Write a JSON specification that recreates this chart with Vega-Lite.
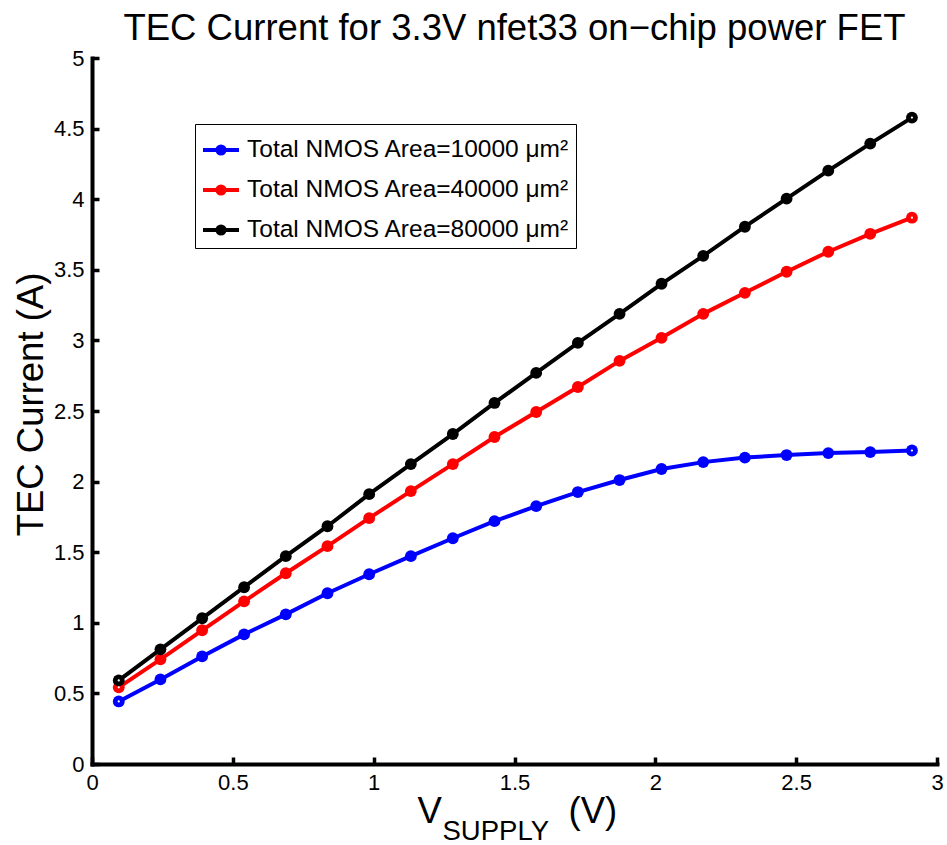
{
  "$schema": "https://vega.github.io/schema/vega-lite/v6.json",
  "width": 845,
  "height": 706,
  "autosize": {"type": "none"},
  "padding": {"left": 92, "top": 58, "right": 10, "bottom": 81},
  "background": "white",
  "config": {
    "font": "Liberation Sans",
    "view": {"stroke": null},
    "axis": {
      "grid": false,
      "domainColor": "black",
      "domainWidth": 4,
      "domainCap": "square",
      "tickColor": "black",
      "tickWidth": 3.5,
      "tickSize": -7,
      "labelPadding": 15,
      "labelFont": "Liberation Sans",
      "labelFontSize": 22,
      "labelColor": "black",
      "labelFlush": false,
      "labelOverlap": false,
      "titleFont": "Liberation Sans",
      "titleFontWeight": "normal",
      "titleColor": "black"
    }
  },
  "title": {
    "text": "TEC Current for 3.3V nfet33 on−chip power FET",
    "font": "Liberation Sans",
    "fontSize": 36.5,
    "fontWeight": "normal",
    "color": "black",
    "frame": "group",
    "anchor": "middle",
    "offset": 0
  },
  "data": {
    "values": [
      {"vsupply": 0.095, "current": 0.443, "area": "Total NMOS Area=10000 μm²"},
      {"vsupply": 0.243, "current": 0.599, "area": "Total NMOS Area=10000 μm²"},
      {"vsupply": 0.391, "current": 0.762, "area": "Total NMOS Area=10000 μm²"},
      {"vsupply": 0.540, "current": 0.918, "area": "Total NMOS Area=10000 μm²"},
      {"vsupply": 0.688, "current": 1.060, "area": "Total NMOS Area=10000 μm²"},
      {"vsupply": 0.836, "current": 1.209, "area": "Total NMOS Area=10000 μm²"},
      {"vsupply": 0.984, "current": 1.344, "area": "Total NMOS Area=10000 μm²"},
      {"vsupply": 1.132, "current": 1.472, "area": "Total NMOS Area=10000 μm²"},
      {"vsupply": 1.281, "current": 1.599, "area": "Total NMOS Area=10000 μm²"},
      {"vsupply": 1.429, "current": 1.720, "area": "Total NMOS Area=10000 μm²"},
      {"vsupply": 1.577, "current": 1.826, "area": "Total NMOS Area=10000 μm²"},
      {"vsupply": 1.725, "current": 1.926, "area": "Total NMOS Area=10000 μm²"},
      {"vsupply": 1.873, "current": 2.011, "area": "Total NMOS Area=10000 μm²"},
      {"vsupply": 2.022, "current": 2.089, "area": "Total NMOS Area=10000 μm²"},
      {"vsupply": 2.170, "current": 2.138, "area": "Total NMOS Area=10000 μm²"},
      {"vsupply": 2.318, "current": 2.170, "area": "Total NMOS Area=10000 μm²"},
      {"vsupply": 2.466, "current": 2.188, "area": "Total NMOS Area=10000 μm²"},
      {"vsupply": 2.614, "current": 2.202, "area": "Total NMOS Area=10000 μm²"},
      {"vsupply": 2.763, "current": 2.209, "area": "Total NMOS Area=10000 μm²"},
      {"vsupply": 2.911, "current": 2.220, "area": "Total NMOS Area=10000 μm²"},
      {"vsupply": 0.095, "current": 0.543, "area": "Total NMOS Area=40000 μm²"},
      {"vsupply": 0.243, "current": 0.741, "area": "Total NMOS Area=40000 μm²"},
      {"vsupply": 0.391, "current": 0.947, "area": "Total NMOS Area=40000 μm²"},
      {"vsupply": 0.540, "current": 1.152, "area": "Total NMOS Area=40000 μm²"},
      {"vsupply": 0.688, "current": 1.351, "area": "Total NMOS Area=40000 μm²"},
      {"vsupply": 0.836, "current": 1.543, "area": "Total NMOS Area=40000 μm²"},
      {"vsupply": 0.984, "current": 1.741, "area": "Total NMOS Area=40000 μm²"},
      {"vsupply": 1.132, "current": 1.933, "area": "Total NMOS Area=40000 μm²"},
      {"vsupply": 1.281, "current": 2.124, "area": "Total NMOS Area=40000 μm²"},
      {"vsupply": 1.429, "current": 2.316, "area": "Total NMOS Area=40000 μm²"},
      {"vsupply": 1.577, "current": 2.493, "area": "Total NMOS Area=40000 μm²"},
      {"vsupply": 1.725, "current": 2.670, "area": "Total NMOS Area=40000 μm²"},
      {"vsupply": 1.873, "current": 2.855, "area": "Total NMOS Area=40000 μm²"},
      {"vsupply": 2.022, "current": 3.018, "area": "Total NMOS Area=40000 μm²"},
      {"vsupply": 2.170, "current": 3.188, "area": "Total NMOS Area=40000 μm²"},
      {"vsupply": 2.318, "current": 3.337, "area": "Total NMOS Area=40000 μm²"},
      {"vsupply": 2.466, "current": 3.486, "area": "Total NMOS Area=40000 μm²"},
      {"vsupply": 2.614, "current": 3.628, "area": "Total NMOS Area=40000 μm²"},
      {"vsupply": 2.763, "current": 3.755, "area": "Total NMOS Area=40000 μm²"},
      {"vsupply": 2.911, "current": 3.869, "area": "Total NMOS Area=40000 μm²"},
      {"vsupply": 0.095, "current": 0.592, "area": "Total NMOS Area=80000 μm²"},
      {"vsupply": 0.243, "current": 0.812, "area": "Total NMOS Area=80000 μm²"},
      {"vsupply": 0.391, "current": 1.032, "area": "Total NMOS Area=80000 μm²"},
      {"vsupply": 0.540, "current": 1.252, "area": "Total NMOS Area=80000 μm²"},
      {"vsupply": 0.688, "current": 1.472, "area": "Total NMOS Area=80000 μm²"},
      {"vsupply": 0.836, "current": 1.684, "area": "Total NMOS Area=80000 μm²"},
      {"vsupply": 0.984, "current": 1.911, "area": "Total NMOS Area=80000 μm²"},
      {"vsupply": 1.132, "current": 2.124, "area": "Total NMOS Area=80000 μm²"},
      {"vsupply": 1.281, "current": 2.337, "area": "Total NMOS Area=80000 μm²"},
      {"vsupply": 1.429, "current": 2.557, "area": "Total NMOS Area=80000 μm²"},
      {"vsupply": 1.577, "current": 2.770, "area": "Total NMOS Area=80000 μm²"},
      {"vsupply": 1.725, "current": 2.982, "area": "Total NMOS Area=80000 μm²"},
      {"vsupply": 1.873, "current": 3.188, "area": "Total NMOS Area=80000 μm²"},
      {"vsupply": 2.022, "current": 3.401, "area": "Total NMOS Area=80000 μm²"},
      {"vsupply": 2.170, "current": 3.599, "area": "Total NMOS Area=80000 μm²"},
      {"vsupply": 2.318, "current": 3.805, "area": "Total NMOS Area=80000 μm²"},
      {"vsupply": 2.466, "current": 4.004, "area": "Total NMOS Area=80000 μm²"},
      {"vsupply": 2.614, "current": 4.202, "area": "Total NMOS Area=80000 μm²"},
      {"vsupply": 2.763, "current": 4.394, "area": "Total NMOS Area=80000 μm²"},
      {"vsupply": 2.911, "current": 4.578, "area": "Total NMOS Area=80000 μm²"}
    ]
  },
  "encoding": {
    "y": {
      "field": "current",
      "type": "quantitative",
      "scale": {"domain": [0, 5], "nice": false},
      "axis": {
        "values": [0, 0.5, 1, 1.5, 2, 2.5, 3, 3.5, 4, 4.5, 5],
        "format": "~g",
        "title": "TEC Current (A)",
        "titleFontSize": 36.5,
        "titleAngle": -90,
        "titleAlign": "center",
        "titleBaseline": "alphabetic",
        "titleX": -50,
        "titleY": 346
      }
    },
    "color": {
      "field": "area",
      "type": "nominal",
      "scale": {
        "domain": ["Total NMOS Area=10000 μm²", "Total NMOS Area=40000 μm²", "Total NMOS Area=80000 μm²"],
        "range": ["#0000ff", "#ff0000", "#000000"]
      },
      "legend": {
        "orient": "none",
        "legendX": 103,
        "legendY": 66,
        "title": null,
        "labelFont": "Liberation Sans",
        "labelFontSize": 24.5,
        "labelColor": "black",
        "labelLimit": 0,
        "labelOffset": 6,
        "symbolType": "M-1,0H1M-0.2,0A0.2,0.2,0,1,1,0.2,0A0.2,0.2,0,1,1,-0.2,0Z",
        "symbolSize": 1296,
        "symbolStrokeWidth": 4,
        "symbolOpacity": 1,
        "padding": 6,
        "rowPadding": 8,
        "strokeColor": "black",
        "fillColor": "white",
        "cornerRadius": 0,
        "encode": {
          "symbols": {
            "update": {
              "fill": {"scale": "color", "field": "value"},
              "stroke": {"scale": "color", "field": "value"}
            }
          }
        }
      }
    }
  },
  "layer": [
    {
      "mark": {"type": "line", "strokeWidth": 4},
      "encoding": {
        "x": {
          "field": "vsupply",
          "type": "quantitative",
          "scale": {"domain": [0, 3], "nice": false},
          "axis": {
            "orient": "bottom",
            "values": [0, 0.5, 1, 1.5, 2, 2.5, 3],
            "format": "~g",
            "title": "V",
            "titleFontSize": 36.5,
            "titleAlign": "left",
            "titleBaseline": "alphabetic",
            "titleX": 325,
            "titleY": 58
          }
        }
      }
    },
    {
      "mark": {"type": "point", "filled": true, "size": 140, "opacity": 1},
      "encoding": {
        "x": {
          "field": "vsupply",
          "type": "quantitative",
          "axis": {
            "orient": "bottom",
            "domain": false,
            "ticks": false,
            "labels": false,
            "title": "SUPPLY",
            "titleFontSize": 27.5,
            "titleAlign": "left",
            "titleBaseline": "alphabetic",
            "titleX": 350,
            "titleY": 75
          }
        }
      }
    },
    {
      "transform": [{"filter": "datum.vsupply < 0.1 || datum.vsupply > 2.9"}],
      "mark": {"type": "point", "filled": true, "size": 5, "opacity": 1},
      "encoding": {
        "x": {
          "field": "vsupply",
          "type": "quantitative",
          "axis": {
            "orient": "bottom",
            "domain": false,
            "ticks": false,
            "labels": false,
            "title": "(V)",
            "titleFontSize": 36.5,
            "titleAlign": "left",
            "titleBaseline": "alphabetic",
            "titleX": 476,
            "titleY": 58
          }
        },
        "color": {"value": "white"}
      }
    }
  ],
  "resolve": {"axis": {"x": "independent"}}
}
